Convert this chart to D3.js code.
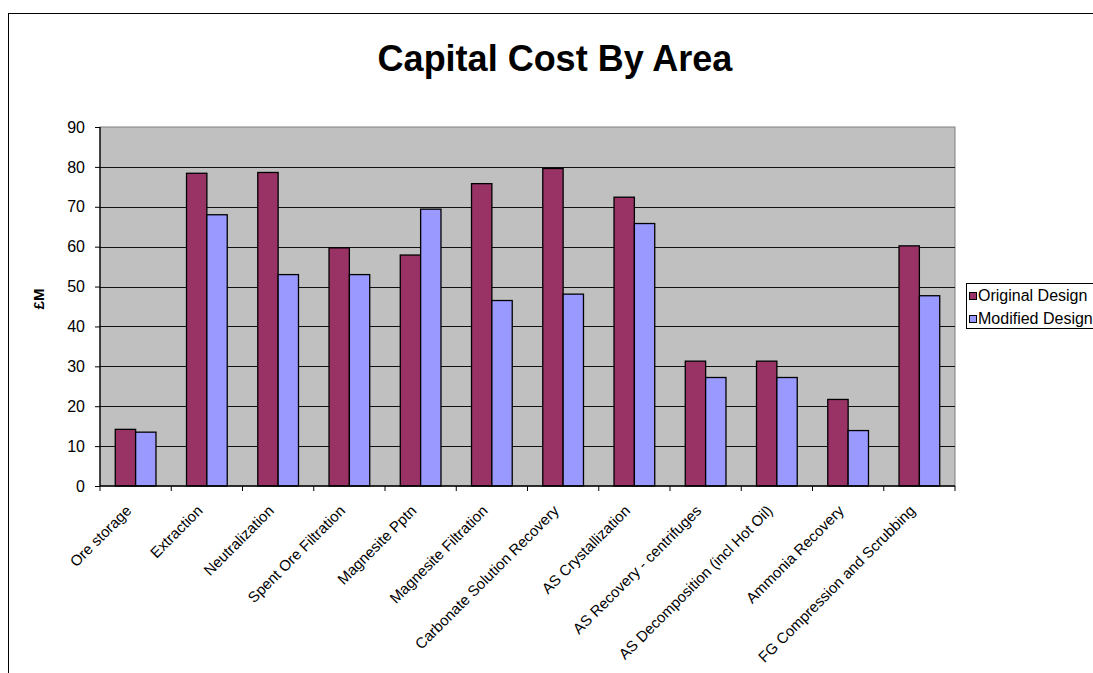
<!DOCTYPE html>
<html><head><meta charset="utf-8">
<script src="https://cdn.jsdelivr.net/npm/d3@7"></script>
<style>body{margin:0;background:#fff;}svg{display:block;font-family:Arial,"Liberation Sans",sans-serif;}</style>
</head><body><svg id="c" width="1093" height="673"></svg>
<script>
const categories = ["Ore storage","Extraction","Neutralization","Spent Ore Filtration","Magnesite Pptn","Magnesite Filtration","Carbonate Solution Recovery","AS Crystallization","AS Recovery - centrifuges","AS Decomposition (incl Hot Oil)","Ammonia Recovery","FG Compression and Scrubbing"];
const originalDesign = [14.2,78.4,78.6,59.7,57.9,75.8,79.6,72.4,31.3,31.3,21.7,60.2];
const modifiedDesign = [13.5,68.0,53.0,53.0,69.4,46.5,48.1,65.8,27.2,27.2,13.9,47.7];
const seriesNames = ["Original Design","Modified Design"];
const seriesColors = ["#993366","#9999FF"];
const yTicks = [0,10,20,30,40,50,60,70,80,90];

const svg = d3.select("#c");
const L=100,R=955,T=127,B=486;

// outer border
svg.append("rect").attr("x",8.5).attr("y",13.5).attr("width",1100).attr("height",700)
  .attr("fill","none").attr("stroke","#000").attr("stroke-width",1);

svg.append("text").attr("x",555).attr("y",71).attr("text-anchor","middle")
  .attr("font-size",36).attr("font-weight","bold").text("Capital Cost By Area");

const x = d3.scaleBand().domain(categories).range([L,R]).paddingInner(0).paddingOuter(0);
const x1 = d3.scaleBand().domain(seriesNames).range([0,x.bandwidth()]).paddingInner(0).paddingOuter(0.75);
const y = d3.scaleLinear().domain([0,90]).range([B,T]);

svg.append("rect").attr("x",L).attr("y",T).attr("width",R-L).attr("height",B-T)
  .attr("fill","#C0C0C0").attr("stroke","#808080").attr("stroke-width",1);

// gridlines
svg.append("g").selectAll("line").data(yTicks.filter(d=>d>0 && d<90)).join("line")
  .attr("x1",L).attr("x2",R).attr("y1",d=>Math.round(y(d))+0.5).attr("y2",d=>Math.round(y(d))+0.5)
  .attr("stroke","#111").attr("stroke-width",1);

// bars
const data = categories.map((c,i)=>({c, vals:[originalDesign[i],modifiedDesign[i]]}));
const g = svg.append("g").selectAll("g").data(data).join("g").attr("transform",d=>`translate(${x(d.c)},0)`);
g.selectAll("rect").data(d=>d.vals.map((v,j)=>({v,s:seriesNames[j],j}))).join("rect")
  .attr("x",d=>x1(d.s)).attr("width",x1.bandwidth())
  .attr("y",d=>y(d.v)).attr("height",d=>B-y(d.v))
  .attr("fill",d=>seriesColors[d.j]).attr("stroke","#000").attr("stroke-width",1.3);

// y axis
const ya = svg.append("g").attr("transform",`translate(${L},0)`)
  .call(d3.axisLeft(y).tickValues(yTicks).tickSize(5).tickPadding(10));
ya.select(".domain").attr("stroke","#000").attr("stroke-width",1.3).attr("d",`M0,${T}V${B}`);
ya.selectAll("text").attr("font-size",16).attr("font-family","Arial, Liberation Sans, sans-serif").attr("fill","#000");

// x axis
const xa = svg.append("g").attr("transform",`translate(0,${B})`)
  .call(d3.axisBottom(x).tickSize(0).tickFormat(""));
xa.select(".domain").attr("stroke","#000").attr("stroke-width",1.3).attr("d",`M${L},0H${R}`);
svg.append("g").selectAll("line").data(d3.range(categories.length+1)).join("line")
  .attr("x1",i=>L+i*x.step()).attr("x2",i=>L+i*x.step()).attr("y1",B).attr("y2",B+5)
  .attr("stroke","#000");
svg.append("g").selectAll("text").data(categories).join("text")
  .attr("transform",d=>`translate(${x(d)+x.bandwidth()/2-7},${B+22}) rotate(-45)`)
  .attr("text-anchor","end").attr("dy","0.35em").attr("font-size",15).text(d=>d);

// y label
svg.append("text").attr("transform","translate(44,299) rotate(-90)").attr("text-anchor","middle")
  .attr("font-size",15).attr("font-weight","bold").text("£M");

// legend
const lg = svg.append("g");
lg.append("rect").attr("x",966.5).attr("y",283.5).attr("width",140).attr("height",45).attr("fill","#fff").attr("stroke","#000");
seriesNames.forEach((s,i)=>{
  lg.append("rect").attr("x",969.5).attr("y",292.5+i*23).attr("width",7).attr("height",7).attr("fill",seriesColors[i]).attr("stroke","#000");
  lg.append("text").attr("x",978).attr("y",301+i*23).attr("font-size",16).text(s);
});
</script></body></html>
